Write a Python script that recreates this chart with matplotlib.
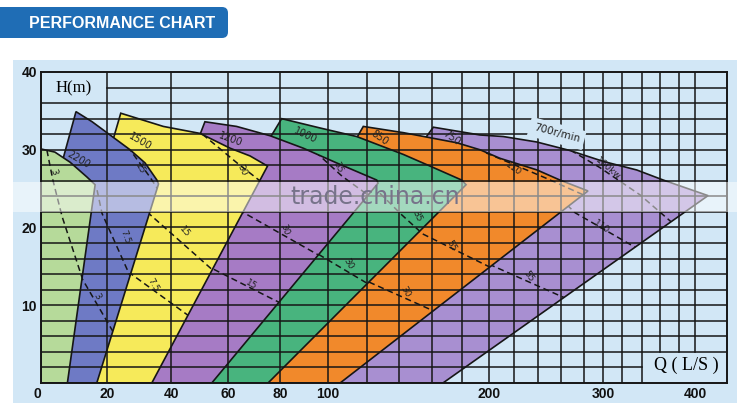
import numpy as np
import matplotlib.pyplot as plt
from matplotlib.patches import Polygon, Rectangle, FancyBboxPatch
from matplotlib.transforms import Affine2D

# flow axis of the sheet is not linear: grid values (L/S) and where they sit on the 686 px axis
q_grid = [0, 20, 40, 60, 80, 100, 120, 140, 160, 180, 200, 220, 240, 260, 280, 300, 320, 340, 360, 380, 400, 440]
q_pos = [0, 66, 130, 187, 239, 287, 326, 358, 391, 421, 448, 473, 497, 520, 543, 562, 581, 601, 619, 638, 654, 686]
x_ticks = [0, 20, 40, 60, 80, 100, 200, 300, 400]
y_ticks = [10, 20, 30, 40]

# pump zones (Q in L/S, H in m), left to right
zone_a_q = [0, 0, 4.2, 8.8, 13.9, 16.4, 8.0]
zone_a_h = [0, 30.1, 29.7, 28.4, 26.5, 25.5, 0]
zone_2200_q = [0, 6.4, 10.6, 15.5, 20.3, 27.2, 31.9, 35.6, 36.1, 16.9]
zone_2200_h = [0, 28.4, 34.9, 33.6, 32.1, 30.0, 28.3, 26.1, 25.6, 0]
zone_1500_q = [11.8, 21.9, 24.3, 37.6, 50.2, 60.8, 68.5, 75.2, 34.0]
zone_1500_h = [0, 31.3, 34.7, 33.0, 32.1, 30.2, 29.2, 27.9, 0]
zone_1200_q = [25.6, 49.5, 51.9, 63.3, 76.2, 89.7, 104.5, 126.1, 126.9, 54.3]
zone_1200_h = [0, 31.3, 33.6, 33.0, 31.8, 30.2, 28.3, 26.1, 25.7, 0]
zone_1000_q = [43.2, 75.4, 80.7, 96.7, 114.7, 142.6, 158.8, 179.8, 183.0, 75.4]
zone_1000_h = [0, 31.1, 34.0, 32.8, 31.7, 29.4, 27.9, 26.1, 25.5, 0]
zone_850_q = [60.8, 113.3, 118.1, 142.6, 176.5, 193.3, 208.8, 239.2, 259.1, 284.2, 106.2]
zone_850_h = [0, 30.9, 33.0, 32.2, 30.9, 30.0, 28.9, 27.4, 26.1, 24.7, 0]
zone_750_q = [85.0, 153.9, 160.9, 193.3, 211.4, 238.9, 267.8, 300.3, 334.7, 363.5, 416.3, 167.3]
zone_750_h = [0, 30.9, 32.9, 31.9, 31.7, 31.0, 29.9, 28.5, 27.4, 26.1, 24.1, 0]

zone_colors = ["#b6da9a", "#6e7ac5", "#f6ea5a", "#a67bc5", "#48b47e", "#f1892b", "#a88fd1"]

# power lines (kW) inside each zone
kw_a = [("3", [1.2, 3.6, 6.4, 12.4, 13.5], [31.2, 26.1, 21.4, 13.6, 12.0])]
kw_2200 = [("15", [24.7, 26.3, 33.4, 38.1], [31.5, 30.5, 26.5, 23.5]),
           ("7.5", [17.0, 18.5, 27.5, 28.8], [24.8, 21.8, 13.5, 12.3]),
           ("3", [11.8, 21.6, 22.8], [13.9, 6.8, 5.9])]
kw_1500 = [("30", [48.4, 63.5, 74.2], [32.8, 28.3, 25.5]),
           ("15", [30.3, 32.8, 54.7, 57.2], [22.9, 21.9, 14.5, 13.8]),
           ("7.5", [26.6, 46.0, 48.4], [14.3, 8.7, 8.1])]
kw_1200 = [("35", [91.7, 107.2, 123.1], [30.6, 26.6, 23.8]),
           ("30", [60.8, 95.8, 98.8], [22.9, 16.5, 15.9]),
           ("15", [51.9, 76.5, 80.8], [15.2, 10.9, 10.2])]
kw_1000 = [("35", [128.1, 141.8, 155.8], [24.4, 21.6, 18.9]),
           ("30", [92.5, 121.9, 125.0], [17.2, 12.6, 12.2])]
kw_850 = [("110", [197.8, 246.1, 281.1], [29.6, 26.4, 24.1]),
          ("55", [143.6, 200.8, 207.2], [20.3, 14.9, 14.4]),
          ("30", [116.4, 160.7, 165.3], [13.5, 9.3, 8.9])]
kw_750 = [("160kw", [260.9, 296.8, 338.0, 375.8], [30.6, 27.7, 24.2, 20.3]),
          ("110", [259.1, 272.2, 338.0], [23.8, 21.9, 17.1]),
          ("55", [193.3, 260.9, 267.8], [15.8, 11.1, 10.7])]

# label spots (Q, H, angle)
kw_a_lab = [(3.7, 27.2, -70)]
kw_2200_lab = [(30.3, 27.6, -60), (25.6, 18.8, -70), (16.9, 11.1, -60)]
kw_1500_lab = [(65.3, 27.4, -65), (44.9, 19.5, -50), (34.5, 12.6, -60)]
kw_1200_lab = [(105.3, 27.8, -65), (82.1, 19.7, -70), (69.1, 12.6, -30)]
kw_1000_lab = [(150.7, 21.4, -65), (110.4, 15.4, -60)]
kw_850_lab = [(219.4, 27.6, -35), (173.1, 17.7, -60), (143.6, 11.7, -60)]
kw_750_lab = [(305.6, 27.6, -40), (298.6, 20.1, -35), (231.9, 13.7, -55)]

speed_text = ["2200", "1500", "1200", "1000", "850", "750"]
speed_lab = [(11.3, 28.7, -30), (30.3, 31.0, -30), (60.8, 31.3, -20),
             (90.4, 31.9, -25), (128.1, 31.5, -35), (173.1, 31.5, -35)]

bg = "#d2e7f6"
ink = "#161616"

fig = plt.figure(figsize=(7.5, 4.15), dpi=100)
fig.patch.set_facecolor("white")
px = Affine2D().scale(1 / 750, -1 / 415).translate(0, 1) + fig.transFigure

fig.add_artist(Rectangle((13, 60), 724, 343, transform=px, facecolor=bg,
                         edgecolor="none", zorder=-5))
fig.add_artist(FancyBboxPatch((-12, 7), 240, 31, boxstyle="round,pad=0,rounding_size=6",
                              transform=px, facecolor="#1f6db5", edgecolor="none", zorder=1))
fig.text(122 / 750, 1 - 23 / 415, "PERFORMANCE CHART", color="white", fontsize=11.5,
         fontweight="bold", family="Liberation Sans", ha="center", va="center", zorder=2)

ax = fig.add_axes([41 / 750, 32 / 415, 686 / 750, 311 / 415])
ax.set_facecolor(bg)
ax.set_xscale("function", functions=(lambda q: np.interp(q, q_grid, q_pos),
                                     lambda p: np.interp(p, q_pos, q_grid)))
ax.set_xlim(0, 440)
ax.set_ylim(0, 40)

zones = [(zone_a_q, zone_a_h, kw_a, kw_a_lab),
         (zone_2200_q, zone_2200_h, kw_2200, kw_2200_lab),
         (zone_1500_q, zone_1500_h, kw_1500, kw_1500_lab),
         (zone_1200_q, zone_1200_h, kw_1200, kw_1200_lab),
         (zone_1000_q, zone_1000_h, kw_1000, kw_1000_lab),
         (zone_850_q, zone_850_h, kw_850, kw_850_lab),
         (zone_750_q, zone_750_h, kw_750, kw_750_lab)]

n = len(zones)
for i, (zq, zh, lines, labs) in enumerate(zones):
    z = 1 + (n - i) * 0.2
    poly = Polygon(np.column_stack([zq, zh]), closed=True, facecolor=zone_colors[i],
                   edgecolor=ink, linewidth=1.2, zorder=z)
    ax.add_patch(poly)
    for (txt, lq, lh), (tq, th, rot) in zip(lines, labs):
        ln, = ax.plot(lq, lh, color=ink, lw=1.1, ls=(0, (4, 2.5)), zorder=z + 0.05)
        ln.set_clip_path(poly)
        ax.text(tq, th, txt, fontsize=6.5, rotation=rot, rotation_mode="anchor",
                ha="center", va="center", color="#222222", zorder=z + 0.1)

for txt, (tq, th, rot) in zip(speed_text, speed_lab):
    ax.text(tq, th, txt, fontsize=7, rotation=rot, rotation_mode="anchor",
            ha="center", va="center", color="#222222", zorder=4)
ax.text(256.3, 32.1, "700r/min", fontsize=7.5, rotation=-15, rotation_mode="anchor",
        ha="center", va="center", color="#222222", zorder=4,
        bbox=dict(boxstyle="square,pad=0.45", facecolor=bg, edgecolor="none"))

# grid
for h in range(2, 40, 2):
    start = 20 if h == 38 else 0
    end = 340 if h == 2 else 440
    ax.plot([start, end], [h, h], color=ink, lw=1.1, zorder=3)
for q in q_grid[1:-1]:
    bottom = 4 if q >= 360 else 0
    ax.plot([q, q], [bottom, 40], color=ink, lw=1.1, zorder=3)

for s in ax.spines.values():
    s.set_linewidth(1.4)
    s.set_color(ink)
    s.set_zorder(6)

ax.set_xticks(x_ticks)
ax.set_xticklabels([str(v) for v in x_ticks])
ax.set_yticks(y_ticks)
ax.set_yticklabels([str(v) for v in y_ticks])
ax.tick_params(length=0, labelsize=10, pad=3, colors="#111111")
for lab in ax.get_xticklabels() + ax.get_yticklabels():
    lab.set_fontweight("bold")
    lab.set_family("Liberation Sans")
ax.get_xticklabels()[0].set_ha("right")

ax.text(0.047, 0.948, "H(m)", transform=ax.transAxes, family="Liberation Serif",
        fontsize=12, ha="center", va="center", zorder=7)
ax.text(0.941, 0.058, "Q ( L/S )", transform=ax.transAxes, family="Liberation Serif",
        fontsize=13, ha="center", va="center", zorder=7)

# watermark strip of the source image
fig.add_artist(Rectangle((13, 182), 724, 30, transform=px, facecolor="white",
                         edgecolor="none", alpha=0.5, zorder=8))
fig.text(375 / 750, 1 - 197 / 415, "trade.china.cn", fontsize=17, color="#77738a",
         ha="center", va="center", zorder=9)

fig.savefig("out.png", dpi=100)
